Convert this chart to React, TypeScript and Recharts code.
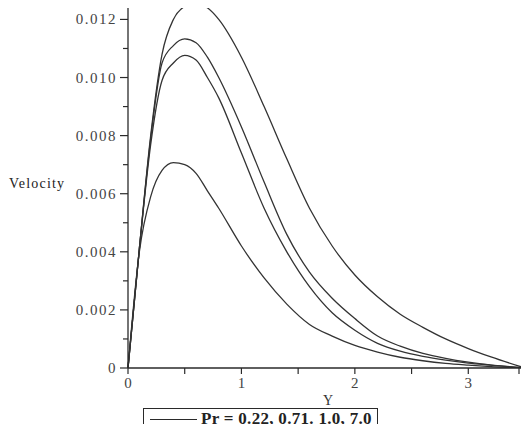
import { LineChart, Line, XAxis, YAxis } from 'recharts'

// Y coordinate (x axis) and velocity profiles for each Prandtl number
const yPoints = [0, 0.1, 0.2, 0.3, 0.4, 0.5, 0.6, 0.7, 0.8, 1.0, 1.2, 1.4, 1.6, 1.8, 2.0, 2.2, 2.4, 2.6, 2.8, 3.0, 3.2, 3.5]
const pr022 = [0, 0.0041, 0.008, 0.0108, 0.012, 0.01245, 0.01257, 0.0124, 0.012, 0.0107, 0.009, 0.0072, 0.0055, 0.0042, 0.0032, 0.00245, 0.00185, 0.0014, 0.001, 0.00067, 0.00038, 0]
const pr071 = [0, 0.0041, 0.0079, 0.0105, 0.0111, 0.01133, 0.0112, 0.0107, 0.01, 0.0083, 0.0064, 0.0046, 0.0033, 0.0024, 0.0017, 0.0011, 0.00075, 0.0005, 0.00033, 0.0002, 0.0001, 0]
const pr10 = [0, 0.0041, 0.0077, 0.0099, 0.0105, 0.01076, 0.0106, 0.01, 0.0093, 0.0074, 0.0055, 0.004, 0.0028, 0.0019, 0.0013, 0.00085, 0.00058, 0.0004, 0.00027, 0.00017, 0.0001, 0]
const pr70 = [0, 0.004, 0.0059, 0.0068, 0.00707, 0.007, 0.0067, 0.0061, 0.0055, 0.0042, 0.0031, 0.0022, 0.0015, 0.0011, 0.00078, 0.00055, 0.00037, 0.00025, 0.00016, 0.0001, 0.00005, 0]

const xTicks = [0, 0.5, 1, 1.5, 2, 2.5, 3, 3.5]
const yTicks = [0, 0.001, 0.002, 0.003, 0.004, 0.005, 0.006, 0.007, 0.008, 0.009, 0.01, 0.011, 0.012]
const legendText = 'Pr = 0.22, 0.71. 1.0, 7.0'

const data = yPoints.map((y, i) => ({ y, a: pr022[i], b: pr071[i], c: pr10[i], d: pr70[i] }))

const font = "'Liberation Serif', 'Times New Roman', serif"
const ink = '#2a2a2a'
const AXIS_X = 128
const AXIS_Y = 368

const YTick = (props: any) => {
  const { y, payload } = props
  const v = payload.value
  const major = Math.round(v * 1000) % 2 === 0
  const label = v === 0 ? '0' : v.toFixed(3)
  return (
    <g>
      <line x1={AXIS_X - (major ? 8 : 5)} x2={AXIS_X} y1={y} y2={y} stroke={ink} strokeWidth={1.2} />
      {major && (
        <text x={117} y={y} dy={5} textAnchor="end" fontFamily={font} fontSize={15} letterSpacing={1.5} fill="#444">
          {label}
        </text>
      )}
    </g>
  )
}

const XTick = (props: any) => {
  const { x, payload } = props
  const v = payload.value
  const major = Number.isInteger(v)
  return (
    <g>
      <line x1={x} x2={x} y1={AXIS_Y} y2={AXIS_Y + 6} stroke={ink} strokeWidth={1.2} />
      {major && (
        <text x={x} y={AXIS_Y + 20} textAnchor="middle" fontFamily={font} fontSize={15} fill="#444">
          {String(v)}
        </text>
      )}
    </g>
  )
}

export default function App() {
  return (
    <div style={{ margin: -8, background: '#fff', width: 529, height: 432, position: 'relative', overflow: 'hidden' }}>
      <LineChart width={529} height={432} data={data} margin={{ top: 2, right: 4, left: 0, bottom: 0 }}>
        <XAxis
          dataKey="y"
          type="number"
          domain={[0, 3.5]}
          ticks={xTicks}
          tick={<XTick />}
          tickLine={false}
          axisLine={{ stroke: ink, strokeWidth: 1.3 }}
          height={64}
          label={{
            content: () => (
              <text x={328} y={405} textAnchor="middle" fontFamily={font} fontSize={14} fill="#333">
                Y
              </text>
            ),
          }}
        />
        <YAxis
          type="number"
          domain={[0, 0.0126]}
          ticks={yTicks}
          tick={<YTick />}
          tickLine={false}
          axisLine={{ stroke: ink, strokeWidth: 1.3 }}
          width={128}
          allowDataOverflow
        />
        <Line type="monotone" dataKey="a" stroke="#333" strokeWidth={1.3} dot={false} isAnimationActive={false} />
        <Line type="monotone" dataKey="b" stroke="#333" strokeWidth={1.3} dot={false} isAnimationActive={false} />
        <Line type="monotone" dataKey="c" stroke="#333" strokeWidth={1.3} dot={false} isAnimationActive={false} />
        <Line type="monotone" dataKey="d" stroke="#333" strokeWidth={1.3} dot={false} isAnimationActive={false} />
      </LineChart>
      <div
        style={{
          position: 'absolute',
          left: 9,
          top: 176,
          fontFamily: font,
          fontSize: 14,
          letterSpacing: 1.2,
          color: '#222',
        }}
      >
        Velocity
      </div>
      <div
        style={{
          position: 'absolute',
          left: 143,
          top: 408,
          width: 233,
          height: 20,
          border: `1.5px solid ${ink}`,
          display: 'flex',
          alignItems: 'center',
          fontFamily: font,
        }}
      >
        <div style={{ width: 47, height: 0, borderTop: `1.3px solid ${ink}`, marginLeft: 6, marginRight: 4 }} />
        <span style={{ fontWeight: 'bold', fontSize: 17, letterSpacing: 0.3, color: '#222', whiteSpace: 'nowrap' }}>
          {legendText}
        </span>
      </div>
    </div>
  )
}
